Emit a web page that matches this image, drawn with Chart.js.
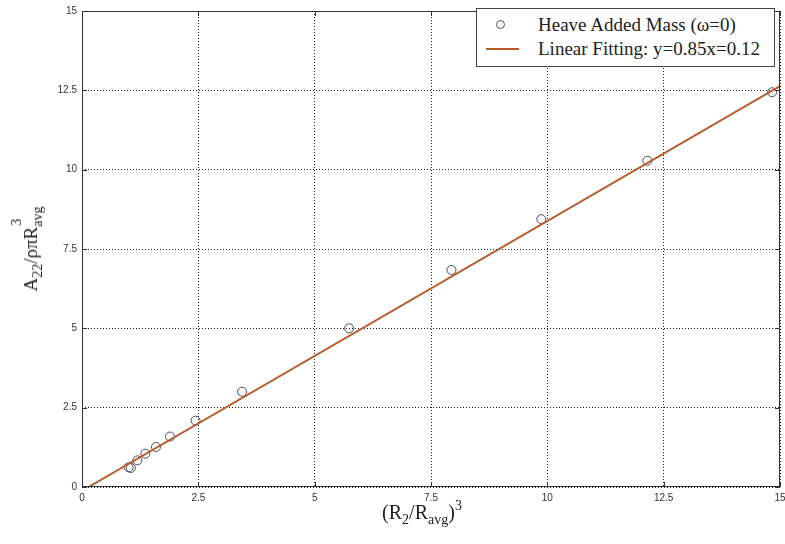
<!DOCTYPE html>
<html>
<head>
<meta charset="utf-8">
<script src="https://cdn.jsdelivr.net/npm/chart.js@4"></script>
<style>
  html, body { margin:0; padding:0; background:#fff; width:785px; height:544px; overflow:hidden; }
  #wrap { position:relative; width:785px; height:544px; overflow:hidden; }
  #box { position:absolute; left:0; top:0; width:800px; height:544px; }
  .ttl { position:absolute; font-family:"Liberation Serif","DejaVu Serif",serif; font-size:20px; color:#222; white-space:nowrap; }
  .ttl sub { font-size:14px; vertical-align:-5px; line-height:0; }
  .ttl sup { font-size:14px; vertical-align:9px; line-height:0; }
  .stack { position:relative; display:inline-block; }
  .stack .dn { position:relative; top:5px; font-size:14px; }
  .stack .up { position:absolute; left:1px; top:-11px; font-size:14px; }
  #ytitle { left:31px; top:249px; transform:translate(-50%,-50%) rotate(-90deg); font-size:19px; }
  #xtitle { left:422px; top:512px; transform:translate(-50%,-50%); }
  #legend { position:absolute; left:476px; top:8px; width:299px; height:59px; background:#fff; border:1px solid #444; box-sizing:border-box;
            font-family:"Liberation Serif","DejaVu Serif",serif; font-size:19px; color:#222; }
  .li { position:absolute; left:0; height:24px; width:100%; }
  .li .txt { position:absolute; left:61px; top:0; line-height:24px; }
  .sym-c { position:absolute; left:19px; top:7px; width:7px; height:7px; border:1px solid #555; border-radius:50%; }
  .sym-l { position:absolute; left:9px; top:11px; width:33px; height:2px; }
</style>
</head>
<body>
<div id="wrap">
  <div id="box"><canvas id="c" width="800" height="544"></canvas></div>
  <div id="ytitle" class="ttl">A<sub>22</sub>/ρπR<span class="stack"><span class="up">3</span><span class="dn">avg</span></span></div>
  <div id="xtitle" class="ttl">(R<sub>2</sub>/R<sub>avg</sub>)<sup>3</sup></div>
  <div id="legend"></div>
</div>
<script>
// ---- data ----
const massX = [1.00, 1.05, 1.19, 1.36, 1.59, 1.89, 2.44, 3.44, 5.74, 7.94, 9.87, 12.15, 14.83];
const massY = [0.62, 0.60, 0.84, 1.05, 1.26, 1.59, 2.09, 3.00, 5.00, 6.84, 8.44, 10.28, 12.44];
const fitX = [0.14, 15];
const fitY = [0, 12.63];
const seriesNames = ["Heave Added Mass (ω=0)", "Linear Fitting: y=0.85x=0.12"];
const xTicks = [0, 2.5, 5, 7.5, 10, 12.5, 15];
const yTicks = [0, 2.5, 5, 7.5, 10, 12.5, 15];

const fitColor = '#b85c2c';
const markColor = '#4a4e5a';

const frame = {
  id: 'frame',
  afterDraw(chart) {
    const a = chart.chartArea, ctx = chart.ctx;
    ctx.save();
    ctx.strokeStyle = '#333';
    ctx.lineWidth = 1;
    ctx.strokeRect(a.left + 0.5, a.top + 0.5, a.right - a.left - 1, a.bottom - a.top - 1);
    // small inward tick marks
    const xs = chart.scales.x, ys = chart.scales.y;
    ctx.beginPath();
    xTicks.forEach(v => {
      const px = Math.round(xs.getPixelForValue(v)) + 0.5;
      ctx.moveTo(px, a.bottom); ctx.lineTo(px, a.bottom - 5);
      ctx.moveTo(px, a.top); ctx.lineTo(px, a.top + 5);
    });
    yTicks.forEach(v => {
      const py = Math.round(ys.getPixelForValue(v)) + 0.5;
      ctx.moveTo(a.left, py); ctx.lineTo(a.left + 5, py);
      ctx.moveTo(a.right, py); ctx.lineTo(a.right - 5, py);
    });
    ctx.stroke();
    ctx.restore();
  }
};

const chart = new Chart(document.getElementById('c'), {
  type: 'scatter',
  data: {
    datasets: [
      {
        label: seriesNames[0],
        data: massX.map((x, i) => ({x, y: massY[i]})),
        pointStyle: 'circle',
        pointRadius: 4.5,
        pointBorderWidth: 1,
        borderColor: markColor,
        backgroundColor: 'rgba(0,0,0,0)',
        showLine: false,
        order: 2
      },
      {
        label: seriesNames[1],
        data: fitX.map((x, i) => ({x, y: fitY[i]})),
        showLine: true,
        borderColor: fitColor,
        borderWidth: 2,
        pointRadius: 0,
        order: 1
      }
    ]
  },
  options: {
    responsive: false,
    animation: false,
    layout: { padding: { left: 0, right: 20, top: 7, bottom: 0 } },
    plugins: { legend: { display: false }, tooltip: { enabled: false } },
    scales: {
      x: {
        type: 'linear', min: 0, max: 15,
        afterBuildTicks: s => { s.ticks = xTicks.map(v => ({value: v})); },
        afterFit: s => { s.height = 57; },
        ticks: { color: '#333', font: { family: 'Liberation Sans', size: 10 }, padding: 5, maxRotation: 0,
                 callback: v => String(v) },
        grid: { color: '#222', lineWidth: 1, drawTicks: false, tickLength: 0 },
        border: { display: false, dash: [1, 2] },
      },
      y: {
        type: 'linear', min: 0, max: 15,
        afterBuildTicks: s => { s.ticks = yTicks.map(v => ({value: v})); },
        afterFit: s => { s.width = 82; },
        ticks: { color: '#333', font: { family: 'Liberation Sans', size: 10 }, padding: 5,
                 callback: v => String(v) },
        grid: { color: '#222', lineWidth: 1, drawTicks: false, tickLength: 0 },
        border: { display: false, dash: [1, 2] },
      }
    }
  },
  plugins: [frame]
});

// HTML legend built from datasets
const leg = document.getElementById('legend');
chart.data.datasets.forEach((ds, i) => {
  const row = document.createElement('div');
  row.className = 'li';
  row.style.top = (4 + i * 24) + 'px';
  const sym = document.createElement('div');
  if (i === 0) { sym.className = 'sym-c'; }
  else { sym.className = 'sym-l'; sym.style.background = ds.borderColor; }
  const t = document.createElement('span');
  t.className = 'txt';
  t.textContent = ds.label;
  row.appendChild(sym); row.appendChild(t);
  leg.appendChild(row);
});
</script>
</body>
</html>
